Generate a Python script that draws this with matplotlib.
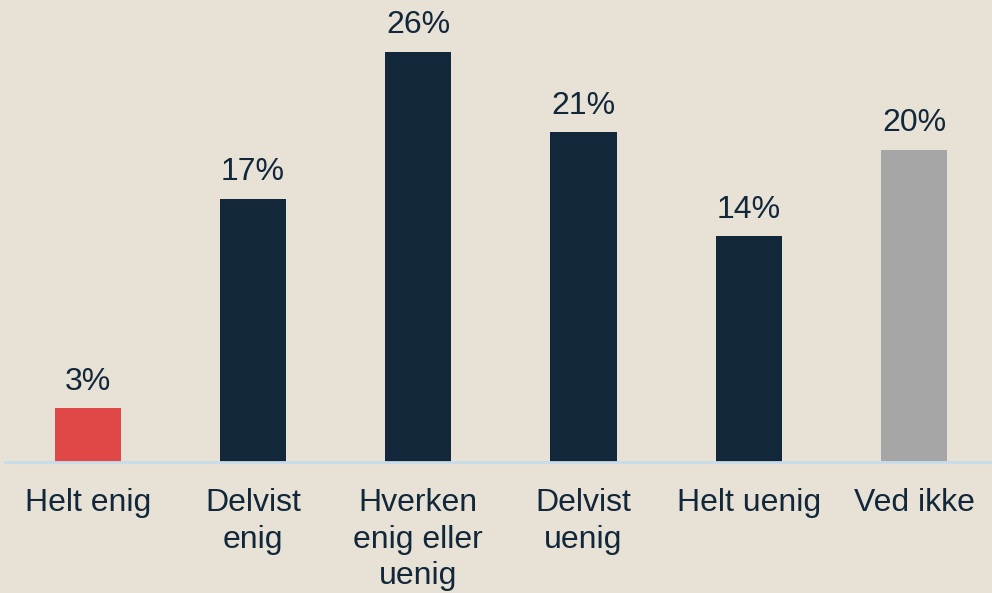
import matplotlib
matplotlib.use("Agg")
import matplotlib.pyplot as plt

categories = ["Helt enig", "Delvist\nenig", "Hverken\nenig eller\nuenig", "Delvist\nuenig", "Helt uenig", "Ved ikke"]
values = [3.4, 16.7, 26.0, 20.9, 14.3, 19.8]
labels = ["3%", "17%", "26%", "21%", "14%", "20%"]
colors = ["#E04848", "#12273A", "#12273A", "#12273A", "#12273A", "#A6A6A6"]

BG = "#E7E1D6"
TXT = "#12273A"

plt.rcParams["font.family"] = ["Liberation Sans", "DejaVu Sans"]

W, H = 992, 593
fig = plt.figure(figsize=(W / 100, H / 100), dpi=100, facecolor=BG)
ax = fig.add_axes([5 / W, (H - 462) / H, 987 / W, 462 / H])
ax.set_facecolor(BG)

x = list(range(len(categories)))
bars = ax.bar(x, values, width=0.4, color=colors, zorder=2)
slot = 165.3
ax.set_xlim(-0.5, -0.5 + 987 / slot)
ax.set_ylim(0, 462 / 15.77)

for xi, v, lab in zip(x, values, labels):
    ax.annotate(lab, (xi, v), xytext=(0, 8.5), textcoords="offset points",
                ha="center", va="bottom", fontsize=23, color=TXT)

ax.set_xticks(x)
ax.set_xticklabels(categories, fontsize=23, color=TXT, linespacing=1.28)
ax.tick_params(axis="x", length=0, pad=19)
ax.set_yticks([])
for s in ["top", "left", "right"]:
    ax.spines[s].set_visible(False)
ax.spines["bottom"].set_color("#C7DCEB")
ax.spines["bottom"].set_linewidth(2)
ax.spines["bottom"].set_zorder(3)

fig.savefig("out.png", dpi=100, facecolor=BG)
